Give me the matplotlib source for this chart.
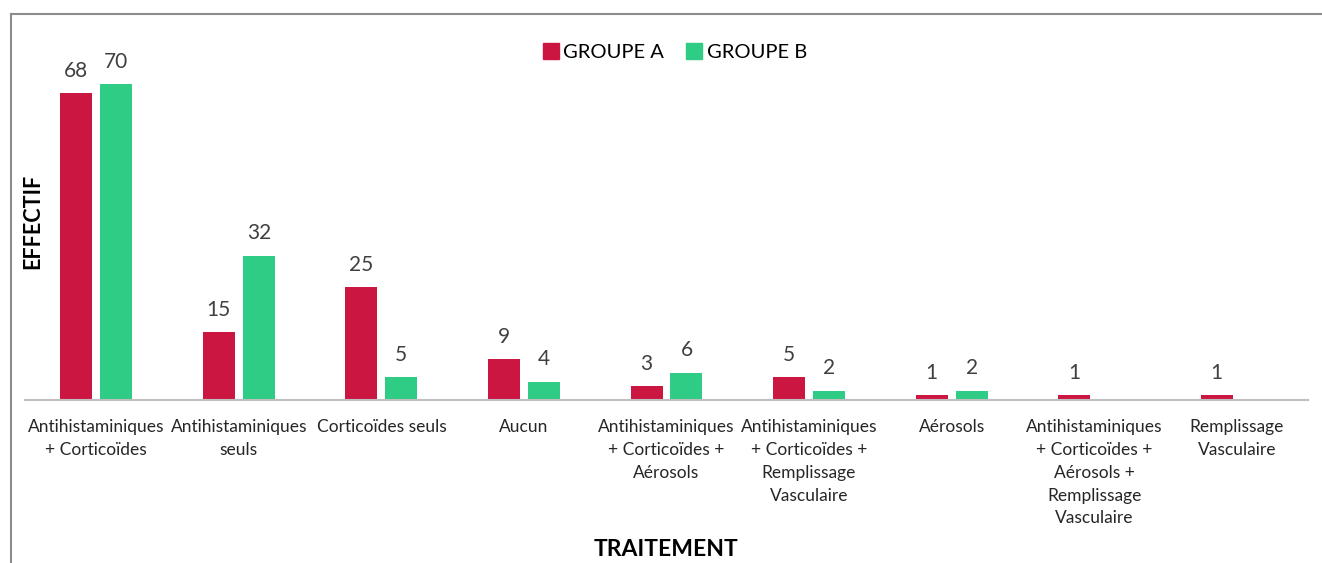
import matplotlib
matplotlib.use("Agg")
import matplotlib.pyplot as plt
import numpy as np
from matplotlib.lines import Line2D

categories = [
    "Antihistaminiques\n+ Corticoïdes",
    "Antihistaminiques\nseuls",
    "Corticoïdes seuls",
    "Aucun",
    "Antihistaminiques\n+ Corticoïdes +\nAérosols",
    "Antihistaminiques\n+ Corticoïdes +\nRemplissage\nVasculaire",
    "Aérosols",
    "Antihistaminiques\n+ Corticoïdes +\nAérosols +\nRemplissage\nVasculaire",
    "Remplissage\nVasculaire",
]
groupe_a = [68, 15, 25, 9, 3, 5, 1, 1, 1]
groupe_b = [70, 32, 5, 4, 6, 2, 2, 0, 0]
series_names = ["GROUPE A", "GROUPE B"]
colors = ["#CC1642", "#2ECC84"]

plt.rcParams['font.family'] = ['Lato', 'DejaVu Sans']

W, H = 1322, 563
fig = plt.figure(figsize=(W / 100, H / 100), dpi=100)
ax = fig.add_axes([25 / W, 163 / H, (1308 - 25) / W, (400 - 39) / H])

x = np.arange(len(categories))
off = 0.14
bw = 0.224
for vals, dx, c, name in [(groupe_a, -off, colors[0], series_names[0]),
                          (groupe_b, off, colors[1], series_names[1])]:
    ax.bar(x + dx, vals, width=bw, color=c, label=name)
    for xi, v in zip(x + dx, vals):
        if v > 0:
            ax.annotate(str(v), (xi, v), xytext=(0, 9), textcoords="offset points",
                        ha="center", va="bottom", fontsize=15, color="#404040")

ax.set_xlim(-0.5, len(categories) - 0.5)
ax.set_ylim(0, 80)
ax.set_yticks([])
ax.set_xticks(x)
ax.set_xticklabels(categories, fontsize=12.5, color="#262626", linespacing=1.52)
ax.tick_params(axis='x', length=0, pad=14)
for s in ["top", "right", "left"]:
    ax.spines[s].set_visible(False)
ax.spines["bottom"].set_color("#BFBFBF")
ax.spines["bottom"].set_linewidth(1.5)

fig.text(33 / W, 1 - 221 / H, "EFFECTIF", rotation=90, ha="center", va="center",
         fontsize=15.5, fontweight="bold", color="black")
fig.text(666 / W, 1 - 550 / H, "TRAITEMENT", ha="center", va="center",
         fontsize=16.5, fontweight="bold", color="black")

handles = [Line2D([], [], marker="s", linestyle="none", markersize=11,
                  markerfacecolor=colors[i], markeredgecolor=colors[i], label=series_names[i])
           for i in range(2)]
fig.legend(handles=handles, loc="center", bbox_to_anchor=(674 / W, 1 - 52 / H), ncol=2,
           frameon=False, fontsize=14.5, handletextpad=0.1, columnspacing=1.0,
           handlelength=1.0)

# outer border
fig.add_artist(Line2D([11 / W, 11 / W], [0, 1 - 14 / H], color="#8C8C8C", lw=1.5,
                      transform=fig.transFigure))
fig.add_artist(Line2D([11 / W, 1], [1 - 14 / H, 1 - 14 / H], color="#8C8C8C", lw=1.5,
                      transform=fig.transFigure))

fig.savefig("out.png", dpi=100, facecolor="white")
